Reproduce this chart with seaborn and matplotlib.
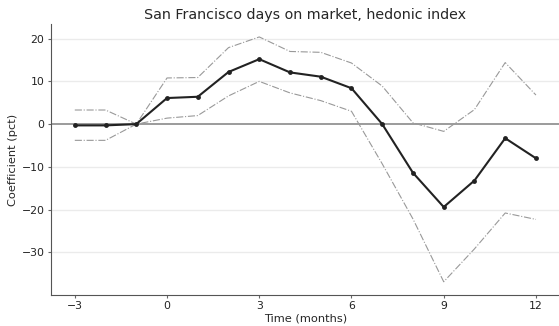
import numpy as np
import pandas as pd
import matplotlib
matplotlib.use("Agg")
import matplotlib.pyplot as plt
import seaborn as sns

months = [-3, -2, -1, 0, 1, 2, 3, 4, 5, 6, 7, 8, 9, 10, 11, 12]
coef = [-0.3, -0.3, 0.0, 6.1, 6.4, 12.2, 15.2, 12.1, 11.1, 8.4, 0.0, -11.4, -19.4, -13.2, -3.3, -8.0]
upper = [3.3, 3.3, 0.0, 10.8, 10.9, 17.9, 20.4, 17.0, 16.8, 14.3, 8.9, 0.3, -1.7, 3.4, 14.4, 6.8]
lower = [-3.8, -3.8, 0.0, 1.4, 2.0, 6.6, 10.0, 7.3, 5.5, 3.0, -9.3, -22.2, -36.9, -29.2, -20.8, -22.3]
xticks = [-3, 0, 3, 6, 9, 12]
yticks = [20, 10, 0, -10, -20, -30]

df = pd.DataFrame({"month": months, "coef": coef, "upper": upper, "lower": lower})

sns.set_style("ticks")
plt.rcParams['font.family'] = ['DejaVu Sans']
fig, ax = plt.subplots(figsize=(5.59, 3.26), dpi=100)

for y in yticks:
    if y != 0:
        ax.axhline(y, color="#ebebeb", lw=1, zorder=0)
ax.axhline(0, color="#808080", lw=1.1, zorder=1)

sns.lineplot(data=df, x="month", y="upper", ax=ax, color="#999999", lw=0.8, linestyle="-.", zorder=2)
sns.lineplot(data=df, x="month", y="lower", ax=ax, color="#999999", lw=0.8, linestyle="-.", zorder=2)
sns.lineplot(data=df, x="month", y="coef", ax=ax, color="#222222", lw=1.5, marker="o",
             markersize=3.5, markeredgewidth=0, zorder=3)

ax.set_xlim(-3.76, 12.75)
ax.set_ylim(-40, 23.4)
ax.set_xticks(xticks)
ax.set_yticks(yticks)
ax.tick_params(labelsize=7.8, length=2, width=0.8, color="#666666", labelcolor="#222222")
ax.tick_params(axis="x", pad=2.5)
ax.tick_params(axis="y", pad=3)
ax.set_xlabel("Time (months)", fontsize=8.2, labelpad=1.5)
ax.set_ylabel("Coefficient (pct)", fontsize=8.2, labelpad=2.5)
ax.set_title("San Francisco days on market, hedonic index", fontsize=10.3, pad=4)
sns.despine(ax=ax)
for s in ["left", "bottom"]:
    ax.spines[s].set_linewidth(0.8)
    ax.spines[s].set_color("#555555")

fig.subplots_adjust(left=0.092, right=1.0, bottom=0.095, top=0.926)
fig.savefig("out.png", dpi=100)
